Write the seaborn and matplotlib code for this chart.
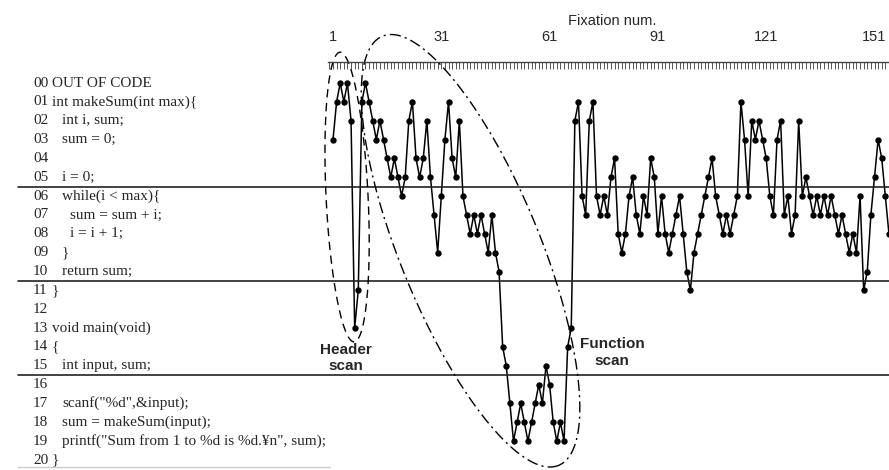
"""
Eye-tracking fixation trace over source code lines
"""

import numpy as np
import matplotlib
matplotlib.use('Agg')
import matplotlib.pyplot as plt
import matplotlib.ticker as mticker
import seaborn as sns

# Line of code hit by each fixation (fixation 1..155)
fixation_lines = [
    3, 1, 0, 1, 0, 2, 13, 11, 1, 0,
    1, 2, 3, 2, 3, 4, 5, 4, 5, 6,
    5, 2, 1, 4, 5, 4, 2, 5, 7, 9,
    6, 3, 1, 4, 5, 2, 6, 7, 8, 7,
    8, 7, 8, 9, 7, 9, 10, 14, 15, 17,
    19, 18, 17, 18, 19, 18, 17, 16, 17, 15,
    16, 18, 19, 18, 19, 14, 13, 2, 1, 6,
    7, 2, 1, 6, 7, 6, 7, 5, 4, 8,
    9, 8, 6, 5, 7, 8, 6, 7, 4, 5,
    8, 6, 8, 9, 8, 7, 6, 8, 10, 11,
    9, 8, 7, 6, 5, 4, 6, 7, 8, 7,
    8, 7, 6, 1, 3, 6, 2, 3, 2, 3,
    4, 6, 7, 3, 2, 7, 6, 8, 7, 2,
    6, 5, 6, 7, 6, 7, 6, 7, 6, 7,
    8, 7, 8, 9, 8, 9, 6, 11, 10, 7,
    5, 3, 4, 6, 8,
]
fixation_num = list(range(1, len(fixation_lines) + 1))

# Source code shown on the left
line_numbers = ['00', '01', '02', '03', '04', '05', '06', '07', '08', '09', '10',
                '11', '12', '13', '14', '15', '16', '17', '18', '19', '20']
code_text = ['OUT OF CODE', 'int makeSum(int max){', 'int i, sum;', 'sum = 0;', '',
             'i = 0;', 'while(i < max){', 'sum = sum + i;', 'i = i + 1;', '}',
             'return sum;', '}', '', 'void main(void)', '{', 'int input, sum;', '',
             'scanf("%d",&input);', 'sum = makeSum(input);',
             'printf("Sum from 1 to %d is %d.¥n", sum);', '}']
code_indent = [0, 0, 1, 1, 1, 1, 1, 2, 2, 1, 1, 0, 0, 0, 0, 1, 1, 1, 1, 1, 0]

block_separators = [5.5, 10.5, 15.5]
major_ticks = [1, 31, 61, 91, 121, 151]

# Layout in pixels
W, H = 889, 470
PX_X = 3.61      # pixels per fixation
PX_Y = 18.85     # pixels per code line
X0_PX, Y0_PX = 333, 83   # pixel position of fixation 1 / line 0
AX_TOP_PX = 62
AX_H_PX = H - AX_TOP_PX

sns.set_style("white")

fig = plt.figure(figsize=(W / 100, H / 100), dpi=100)
ax = fig.add_axes([0, 0, 1, AX_H_PX / H])

xmin = 1 - X0_PX / PX_X
xmax = 1 + (W - X0_PX) / PX_X
ytop = (AX_TOP_PX - Y0_PX) / PX_Y
ybot = (H - Y0_PX) / PX_Y
ax.set_xlim(xmin, xmax)
ax.set_ylim(ybot, ytop)

# Fixation trace
sns.lineplot(x=fixation_num, y=fixation_lines, ax=ax, color='black',
             linewidth=1.1, marker='o', markersize=4.6, markeredgewidth=0,
             markerfacecolor='black', sort=False, estimator=None)

# Block separators across the code and the plot
for yv in block_separators:
    ax.axhline(yv, xmin=18 / W, xmax=1, color='#222222', linewidth=1.2)
ax.axhline((467 - Y0_PX) / PX_Y, xmin=18 / W, xmax=330 / W,
           color='#cccccc', linewidth=1.0)

# Code listing (x in axes fraction, y in data)
trans = ax.get_yaxis_transform()
for i, (num, code, ind) in enumerate(zip(line_numbers, code_text, code_indent)):
    ax.text(33 / W, i, num, transform=trans, ha='left', va='center',
            fontsize=11, family='Liberation Serif')
    ax.text((52 + 8 * ind + (2 if ind else 0)) / W, i, code, transform=trans,
            ha='left', va='center', fontsize=11, family='Liberation Serif')

# Ruler on top
for side in ['left', 'right', 'bottom']:
    ax.spines[side].set_visible(False)
ax.spines['top'].set_bounds(-0.5, xmax)
ax.spines['top'].set_linewidth(1.0)
ax.spines['top'].set_color('#444444')
ax.xaxis.tick_top()
ax.xaxis.set_label_position('top')
ax.xaxis.set_major_locator(mticker.FixedLocator(major_ticks))
ax.xaxis.set_minor_locator(mticker.FixedLocator(np.arange(0, int(xmax) + 1)))
ax.tick_params(axis='x', which='both', direction='in', length=5, width=0.7,
               color='#555555', top=True, bottom=False)
ax.tick_params(axis='x', which='major', pad=13, labelsize=10.5)
for lbl in ax.get_xticklabels():
    lbl.set_family('Liberation Sans')
ax.set_xlabel('Fixation num.', fontsize=10.5, family='Liberation Sans')
ax.xaxis.set_label_coords(612 / W, (H - 25) / AX_H_PX)
ax.set_yticks([])
ax.set_ylabel('')


def ellipse_xy(cx, cy, a_px, b_px, ang_deg):
    t = np.linspace(0, 2 * np.pi, 300)
    th = np.deg2rad(ang_deg)
    u, v = a_px * np.cos(t), b_px * np.sin(t)
    dx = u * np.cos(th) - v * np.sin(th)
    dy = u * np.sin(th) + v * np.cos(th)
    return cx + dx / PX_X, cy + dy / PX_Y


# Header scan ellipse (dashed)
hx, hy = ellipse_xy(4.9, 6.05, 145, 21, 87.2)
ax.plot(hx, hy, color='black', linewidth=1.0, dashes=(6, 4), clip_on=False)
# Function scan ellipse (dash-dot)
fx, fy = ellipse_xy(39.1, 8.9, 232, 70, 67.7)
ax.plot(fx, fy, color='black', linewidth=1.0, dashes=(8, 3, 1.5, 3), clip_on=False)

ax.text(4.6, 14.6, 'Header\nscan', ha='center', va='center', fontsize=11,
        fontweight='bold', family='Liberation Sans', linespacing=1.2)
ax.text(78.3, 14.3, 'Function\nscan', ha='center', va='center', fontsize=11,
        fontweight='bold', family='Liberation Sans', linespacing=1.2)

fig.savefig('out.png', dpi=100)
plt.close(fig)
